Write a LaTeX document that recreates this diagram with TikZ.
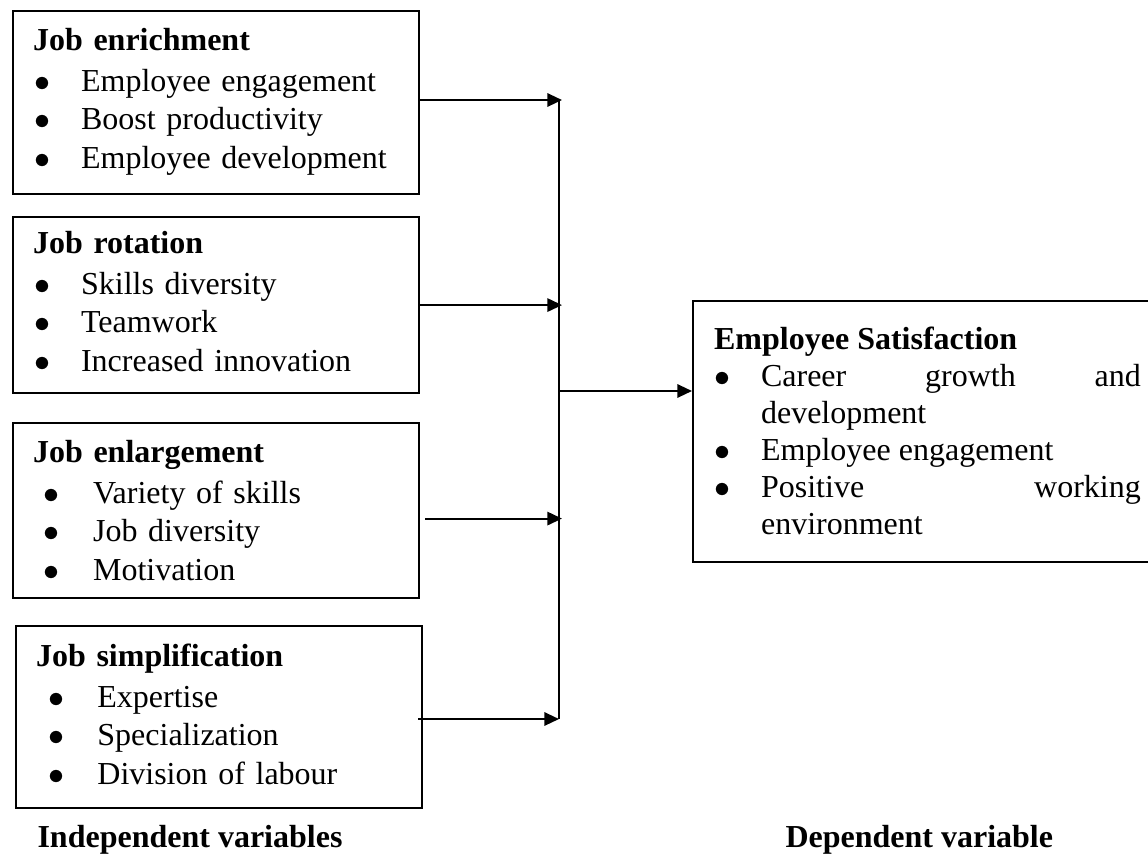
\documentclass[tikz,border=0pt]{standalone}
\usepackage{fontspec}
\setmainfont{Liberation Serif}
\usetikzlibrary{arrows.meta}

% bullet item: #1 bullet offset, #2 text indent, #3 text
\newcommand{\bitem}[3]{\par\hangindent=#2\hangafter=1\noindent\makebox[#2][l]{\hspace{#1}$\bullet$}#3}

\begin{document}
\begin{tikzpicture}
		[x=0.375pt,y=-0.375pt,line cap=butt,
		%Styles
		varbox/.style={draw,line width=0.8pt,anchor=north west,text width=137.25pt,
			inner xsep=7.5pt,inner ysep=0pt,align=left,font=\fontsize{12}{14.6}\selectfont},
		depbox/.style={varbox,text width=160pt,inner xsep=7.9pt,align=justify,
			font=\fontsize{12}{13.9}\selectfont},
		flow/.style={-{Triangle[length=5.5pt,width=5pt]},line width=0.8pt},
		caption/.style={anchor=west,font=\fontsize{12}{14}\selectfont\bfseries,inner sep=0pt}
		]
		
		\useasboundingbox (0,0) rectangle (1148,861);
		
		%Independent variables
		\node[varbox,text height=14.625pt,text depth=54pt] (enrich) at (12,10) {\textbf{Job enrichment}\par\vspace{0.75pt}
			\bitem{0.5pt}{18pt}{Employee engagement}
			\bitem{0.5pt}{18pt}{Boost productivity}
			\bitem{0.5pt}{18pt}{Employee development}\par};
		\node[varbox,text height=13.5pt,text depth=52.5pt] (rotate) at (12,216) {\textbf{Job rotation}\par\vspace{0.75pt}
			\bitem{0.5pt}{18pt}{Skills diversity}
			\bitem{0.5pt}{18pt}{Teamwork}
			\bitem{0.5pt}{18pt}{Increased innovation}\par};
		\node[varbox,text height=14.625pt,text depth=51pt] (enlarge) at (12,422) {\textbf{Job enlargement}\par\vspace{0.75pt}
			\bitem{4pt}{22.5pt}{Variety of skills}
			\bitem{4pt}{22.5pt}{Job diversity}
			\bitem{4pt}{22.5pt}{Motivation}\par};
		\node[varbox,text height=15pt,text depth=53.25pt] (simplify) at (15,625) {\textbf{Job simplification}\par\vspace{0.75pt}
			\bitem{4.5pt}{23pt}{Expertise}
			\bitem{4.5pt}{23pt}{Specialization}
			\bitem{4.5pt}{23pt}{Division of labour}\par};
		
		%Dependent variable
		\node[depbox,text height=18pt,text depth=79.9pt] (satis) at (692,300) {\textbf{Employee Satisfaction}
			\bitem{0pt}{17.6pt}{Career growth and\linebreak development}
			\bitem{0pt}{17.6pt}{Employee engagement}
			\bitem{0pt}{17.6pt}{Positive working\linebreak environment}\par};
		
		%Connectors
		\coordinate (bus) at (562,0);
		\coordinate (bus top) at (559,100);
		\coordinate (bus bottom) at (559,719);
		\coordinate (bus out) at (559,391);
		
		\draw[line width=0.8pt] (bus top) -- (bus bottom);
		\draw[flow] (enrich.east |- bus top) -- (bus top -| bus);
		\draw[flow] (rotate.east) -- (rotate.east -| bus);
		\draw[flow] ([shift={(5,8)}]enlarge.east) -- ([yshift=-8*0.375pt]enlarge.east -| bus);
		\draw[flow] ([xshift=-5*0.375pt]simplify.east |- bus bottom) -- (bus bottom);
		\draw[flow] (bus out) -- (bus out -| satis.west);
		
		%Captions
		\node[caption] (indep) at (37,840) {Independent variables};
		\node[caption] (dep) at (785,840) {Dependent variable};
	\end{tikzpicture}
\end{document}
